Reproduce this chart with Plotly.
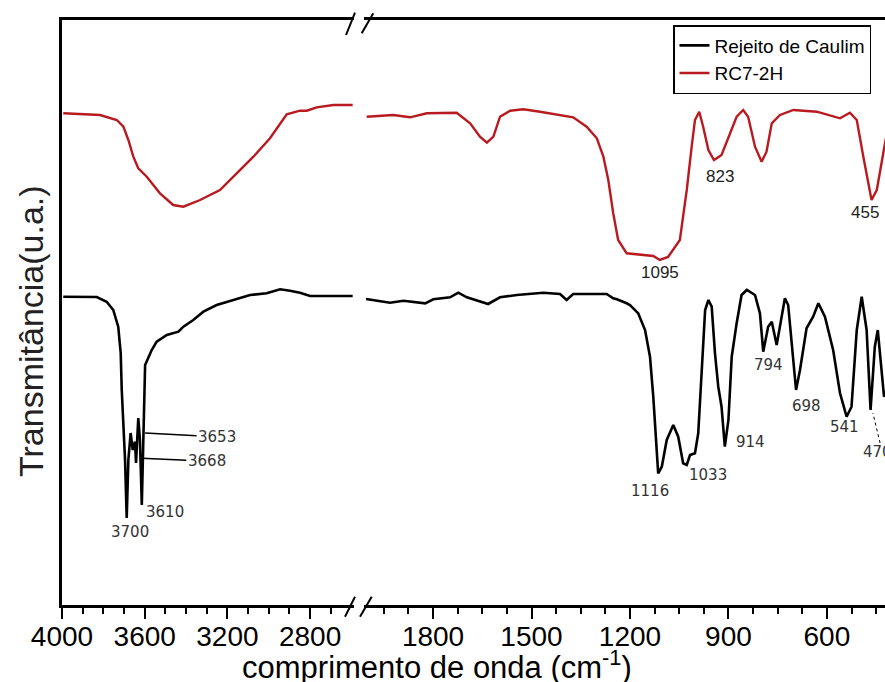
import plotly.graph_objects as go

# ---------------- data (wavenumber cm-1, transmittance a.u.) ----------------
# Rejeito de Caulim (black) - high wavenumber segment
rc_hi_wn = [3994, 3832, 3784, 3752, 3728, 3716, 3711, 3695, 3687, 3679, 3668, 3658,
            3647, 3642, 3631, 3623, 3614, 3607, 3602, 3598, 3566, 3542, 3493, 3437,
            3413, 3365, 3316, 3252, 3171, 3090, 3010, 2945, 2897, 2849, 2800, 2719, 2594]
rc_hi_t = [308.3, 308.0, 303.3, 295.0, 278.3, 252.0, 215.0, 145.0, 87.0, 145.0, 172.0, 155.0,
           163.3, 142.0, 187.0, 165.0, 100.0, 175.0, 210.0, 240.0, 255.0, 263.3, 270.0, 273.3,
           278.3, 285.0, 293.3, 300.0, 305.0, 310.0, 311.7, 315.7, 314.3, 312.3, 309.0, 309.0, 309.0]

# Rejeito de Caulim (black) - low wavenumber segment
rc_lo_wn = [2004, 1931, 1890, 1824, 1799, 1748, 1723, 1697, 1632, 1596, 1545, 1464, 1413,
            1393, 1373, 1312, 1271, 1251, 1240, 1210, 1200, 1180, 1175, 1154, 1139, 1129,
            1121, 1114, 1103, 1088, 1068, 1053, 1038, 1027, 1017, 1002, 992, 982, 971, 961,
            951, 941, 931, 921, 911, 900, 890, 875, 860, 844, 819, 804, 794, 779, 768, 753,
            743, 728, 718, 702, 694, 682, 662, 642, 626, 606, 581, 560, 540, 525, 509, 494,
            479, 467, 454, 445, 433, 426, 418]
rc_lo_t = [306.0, 302.3, 304.3, 301.7, 305.7, 307.7, 312.3, 307.7, 301.0, 307.7, 310.0, 312.3, 311.0,
           305.0, 311.0, 311.0, 311.0, 306.7, 305.7, 301.7, 300.0, 293.3, 291.7, 275.0, 248.3, 208.3,
           165.0, 131.7, 138.3, 165.0, 180.0, 168.3, 141.7, 140.0, 150.0, 151.7, 171.7, 231.7, 295.0, 305.0,
           298.3, 251.7, 218.3, 198.3, 158.3, 185.0, 248.3, 281.7, 310.0, 315.0, 310.0, 291.7, 253.3, 278.3, 283.3, 260.0,
           278.3, 306.7, 300.0, 245.0, 215.0, 235.0, 276.7, 288.3, 301.7, 288.3, 255.0, 211.7, 188.3, 198.3, 275.0, 308.3,
           275.0, 195.0, 258.3, 275.0, 231.7, 208.3, 215.0]

# RC7-2H (red) - high wavenumber segment
r7_hi_wn = [3994, 3897, 3816, 3735, 3703, 3679, 3655, 3631, 3590, 3526, 3462, 3413, 3332,
            3236, 3155, 3074, 2994, 2945, 2913, 2849, 2816, 2768, 2687, 2594]
r7_hi_t = [491.7, 490.7, 490.0, 485.0, 478.3, 465.0, 448.3, 436.7, 428.3, 411.7, 400.0, 398.3, 405.0,
           415.0, 431.7, 448.3, 466.7, 481.7, 490.7, 494.3, 494.3, 497.7, 500.0, 500.0]

# RC7-2H (red) - low wavenumber segment
r7_lo_wn = [2002, 1921, 1870, 1819, 1728, 1687, 1657, 1636, 1616, 1596, 1565, 1525, 1474,
            1413, 1373, 1332, 1301, 1281, 1266, 1251, 1236, 1210, 1170, 1129, 1109, 1084,
            1048, 1027, 1012, 1002, 989, 977, 961, 944, 921, 895, 875, 855, 840, 819, 799,
            784, 768, 743, 702, 631, 581, 560, 530, 509, 489, 464, 448, 433, 423, 418]
r7_lo_t = [488.3, 490.0, 487.7, 491.7, 492.3, 481.7, 468.3, 462.3, 468.3, 488.3, 494.3, 495.7, 493.3,
           490.0, 487.7, 478.3, 466.7, 448.3, 425.0, 391.7, 365.0, 351.7, 350.0, 349.0, 345.0, 348.0,
           365.0, 415.0, 458.3, 485.0, 493.3, 478.3, 455.0, 445.0, 450.0, 471.7, 488.3, 495.0, 488.3, 458.3, 443.3,
           453.3, 481.7, 490.0, 495.0, 493.3, 488.3, 486.7, 492.3, 485.0, 448.3, 405.0, 415.0, 445.0, 461.7, 470.0]

series_names = ["Rejeito de Caulim", "RC7-2H"]

# peak labels: (text, wavenumber position, transmittance position, axis)
black_labels = [("3700", 3671, 73.3, "x"), ("3610", 3502, 93.3, "x"),
                ("1116", 1139, 114.3, "x2"), ("1033", 961, 130.0, "x2"),
                ("914", 834, 162.7, "x2"), ("794", 779, 240.0, "x2"),
                ("698", 662, 199.0, "x2"), ("541", 545, 178.3, "x2")]
arrow_labels = [("3653", 3598, 172.0, 72, 4), ("3668", 3614, 146.7, 65, 3)]
red_labels = [("1095", 1109, 333.0), ("823", 926, 429.0), ("455", 484, 392.3)]

# ---------------- figure ----------------
BLACK = "#000000"
RED = "#b81a20"
W, H = 885, 682
PL, PR, PT, PB = 62, 885, 20, 605   # plot area on screen (px)
PW = PR - PL
PH = PB - PT


def px_x(p):
    return (p - PL) / PW


def px_y(p):
    return (PB - p) / PH


fig = go.Figure()
fig.add_trace(go.Scatter(x=rc_hi_wn, y=rc_hi_t, mode="lines", xaxis="x", yaxis="y",
                         line=dict(color=BLACK, width=2.6), name=series_names[0],
                         legendgroup="a", showlegend=True))
fig.add_trace(go.Scatter(x=rc_lo_wn, y=rc_lo_t, mode="lines", xaxis="x2", yaxis="y",
                         line=dict(color=BLACK, width=2.6), name=series_names[0],
                         legendgroup="a", showlegend=False))
fig.add_trace(go.Scatter(x=r7_hi_wn, y=r7_hi_t, mode="lines", xaxis="x", yaxis="y",
                         line=dict(color=RED, width=2.4), name=series_names[1],
                         legendgroup="b", showlegend=True))
fig.add_trace(go.Scatter(x=r7_lo_wn, y=r7_lo_t, mode="lines", xaxis="x2", yaxis="y",
                         line=dict(color=RED, width=2.4), name=series_names[1],
                         legendgroup="b", showlegend=False))

tickfont = dict(family="Liberation Sans, Arial, sans-serif", size=28, color="black")
left_dom = [0, px_x(353.5)]
right_dom = [px_x(364.1), 1]

fig.update_layout(
    width=W, height=H,
    margin=dict(l=PL, r=W - PR, t=PT, b=H - PB),
    paper_bgcolor="white", plot_bgcolor="white",
    xaxis=dict(domain=left_dom, range=[4000, 2590], anchor="y",
               tickmode="linear", tick0=0, dtick=400,
               ticks="outside", ticklen=11, tickwidth=2, tickcolor="black",
               ticklabelstandoff=-6,
               minor=dict(tickmode="array",
                          tickvals=[3900, 3800, 3700, 3500, 3400, 3300, 3100, 3000, 2900, 2700],
                          ticks="outside", ticklen=6, tickwidth=2, tickcolor="black"),
               showline=True, linewidth=2.5, linecolor="black", mirror=True,
               showgrid=False, zeroline=False, tickfont=tickfont),
    xaxis2=dict(domain=right_dom, range=[2010, 423], anchor="y",
                tickmode="linear", tick0=0, dtick=300,
                ticks="outside", ticklen=11, tickwidth=2, tickcolor="black",
                ticklabelstandoff=-6,
                minor=dict(tickmode="linear", tick0=0, dtick=75,
                           ticks="outside", ticklen=6, tickwidth=2, tickcolor="black"),
                showline=True, linewidth=2.5, linecolor="black", mirror=True,
                showgrid=False, zeroline=False, tickfont=tickfont),
    yaxis=dict(range=[0, 585], anchor="x", showticklabels=False, ticks="",
               showline=True, linewidth=2.5, linecolor="black",
               showgrid=False, zeroline=False),
    legend=dict(x=px_x(673), y=px_y(25), xanchor="left", yanchor="top",
                bgcolor="white", bordercolor="black", borderwidth=1.5,
                font=dict(family="Liberation Sans, Arial, sans-serif", size=19, color="black"),
                tracegroupgap=0, itemwidth=30),
    showlegend=True,
)

# axis titles
fig.add_annotation(text="comprimento de onda (cm<sup>-1</sup>)", xref="paper", yref="paper",
                   x=px_x(437), y=px_y(665), xanchor="center", yanchor="middle", showarrow=False,
                   font=dict(family="Liberation Sans, Arial, sans-serif", size=31, color="black"))
fig.add_annotation(text="Transmitância(u.a.)", xref="paper", yref="paper",
                   x=px_x(31), y=px_y(331), xanchor="center", yanchor="middle", showarrow=False,
                   textangle=-90,
                   font=dict(family="Liberation Sans, Arial, sans-serif", size=34, color="#222"))

lab_font = dict(family="DejaVu Sans, Verdana, sans-serif", size=15, color="#333")
red_font = dict(family="Liberation Sans, Arial, sans-serif", size=17, color="#222")
for txt, xv, yv, ax in black_labels:
    fig.add_annotation(text=txt, x=xv, y=yv, xref=ax, yref="y", showarrow=False, font=lab_font)
for txt, xv, yv, dx, dy in arrow_labels:
    fig.add_annotation(text=txt, x=xv, y=yv, xref="x", yref="y", showarrow=True,
                       arrowhead=0, arrowwidth=1.5, arrowcolor="black", ax=dx, ay=dy,
                       font=lab_font)
fig.add_annotation(text="470", x=496, y=153.3, xref="x2", yref="y", xanchor="left",
                   showarrow=False, font=lab_font)
fig.add_shape(type="line", xref="x2", yref="y", x0=438, y0=162, x1=460, y1=192,
              line=dict(color="black", width=1, dash="dot"))
for txt, xv, yv in red_labels:
    fig.add_annotation(text=txt, x=xv, y=yv, xref="x2", yref="y", showarrow=False, font=red_font)

# axis break marks
for (xa, ya, xb, yb) in [(346, 35, 355, 12.7), (361.7, 33.3, 373.3, 13.3),
                         (345, 616.7, 355, 596.7), (360, 616.7, 371.7, 596.7)]:
    fig.add_shape(type="line", xref="paper", yref="paper",
                  x0=px_x(xa), y0=px_y(ya), x1=px_x(xb), y1=px_y(yb),
                  line=dict(color="black", width=2))

fig.write_html("out.html", config={"displayModeBar": False},
               post_script="document.body.style.margin='0';"
                           "document.documentElement.style.overflow='hidden';")
